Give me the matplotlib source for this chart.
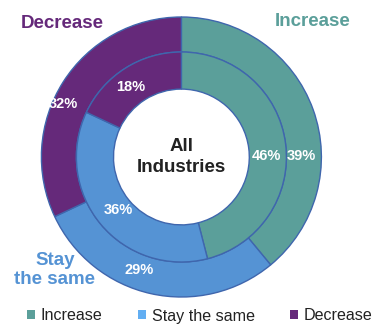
import matplotlib
matplotlib.use("Agg")
import matplotlib.pyplot as plt
from matplotlib.patches import Patch

plt.rcParams['font.family'] = ['Liberation Sans', 'DejaVu Sans']

categories = ["Increase", "Stay the same", "Decrease"]
outer_values = [39, 29, 32]
inner_values = [46, 36, 18]
colors = ["#5b9f9a", "#5593d4", "#65297a"]
legend_colors = ["#5b9f9a", "#62aef2", "#65297a"]
edge = "#3f66ad"

fig = plt.figure(figsize=(3.79, 3.24), dpi=100)
ax = fig.add_axes([(180 - 140) / 379, 1 - (157 + 140) / 324, 280 / 379, 280 / 324])

ax.pie(outer_values, radius=1.0, colors=colors, startangle=90, counterclock=False,
       wedgeprops=dict(width=0.25, edgecolor=edge, linewidth=1.0))
ax.pie(inner_values, radius=0.75, colors=colors, startangle=90, counterclock=False,
       wedgeprops=dict(width=0.265, edgecolor=edge, linewidth=1.0))
ax.set_xlim(-1.01, 0.99)
ax.set_ylim(-1, 1)
ax.set_aspect('auto')
ax.axis('off')

ax.text(0, 0, "All\nIndustries", ha='center', va='center', fontsize=13.5,
        fontweight='bold', color='#222222', linespacing=1.25)

outer_pos = [(0.86, 0.01), (-0.30, -0.81), (-0.84, 0.38)]
inner_pos = [(0.61, 0.01), (-0.45, -0.38), (-0.36, 0.50)]
for v, (x, y) in zip(outer_values, outer_pos):
    ax.text(x, y, f"{v}%", ha='center', va='center', fontsize=10.5,
            fontweight='bold', color='white')
for v, (x, y) in zip(inner_values, inner_pos):
    ax.text(x, y, f"{v}%", ha='center', va='center', fontsize=10.5,
            fontweight='bold', color='white')

fig.text(313 / 379, 1 - 22 / 324, "Increase", ha='center', va='center',
         fontsize=13.5, fontweight='bold', color=colors[0])
fig.text(62 / 379, 1 - 24 / 324, "Decrease", ha='center', va='center',
         fontsize=13.5, fontweight='bold', color=colors[2])
fig.text(55 / 379, 1 - 270 / 324, "Stay\nthe same", ha='center', va='center',
         fontsize=13.5, fontweight='bold', color=colors[1], linespacing=1.15)

handles = [Patch(facecolor=c, edgecolor='none') for c in legend_colors]
fig.legend(handles, categories, loc='center', bbox_to_anchor=(200 / 379, 1 - 316 / 324),
           ncol=3, frameon=False, fontsize=11.6, handlelength=0.5, handleheight=0.5,
           handletextpad=0.35, columnspacing=2.2, borderaxespad=0,
           labelcolor='#222222')

fig.savefig("out.png", dpi=100)
